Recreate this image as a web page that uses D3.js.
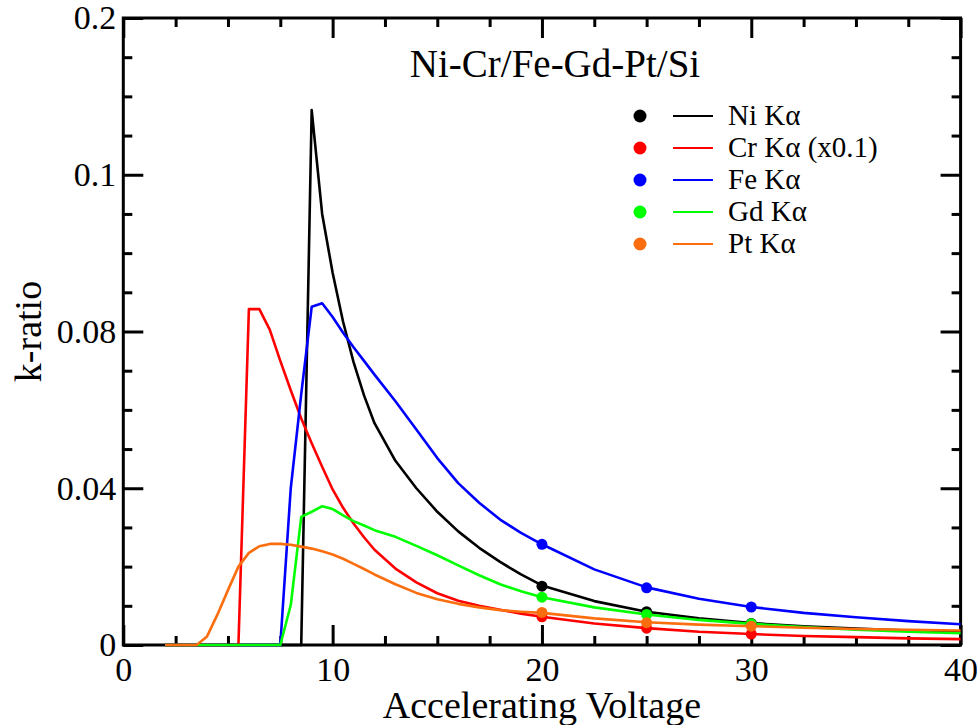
<!DOCTYPE html>
<html>
<head>
<meta charset="utf-8">
<script src="https://cdn.jsdelivr.net/npm/d3@7"></script>
<style>
  body { margin: 0; background: #fff; }
</style>
</head>
<body>
<div class="canvas"></div>
<script>
// accelerating voltage (kV) grid of the simulated curves
const voltage = [2, 2.5, 3, 3.5, 4, 4.5, 5, 5.5, 6, 6.5, 7, 7.5, 8, 8.5, 9, 9.5, 10, 10.5, 11, 11.5, 12,
  13, 14, 15, 16, 17, 18, 19, 20, 22.5, 25, 27.5, 30, 32.5, 35, 37.5, 40];

const niKa = [0, 0, 0, 0, 0, 0, 0, 0, 0, 0, 0, 0, 0, 0, 0.1365, 0.110, 0.0950, 0.0825, 0.0722, 0.0637, 0.0566,
  0.0470, 0.0400, 0.0340, 0.0290, 0.0248, 0.0212, 0.0180, 0.0152, 0.0112, 0.0085, 0.0068, 0.0056, 0.0048, 0.0042, 0.0037, 0.0033];
const crKa = [0, 0, 0, 0, 0, 0, 0, 0, 0.0857, 0.0857, 0.0804, 0.0725, 0.065, 0.0578, 0.0515, 0.0455, 0.0397, 0.035, 0.031, 0.0275, 0.0243,
  0.0195, 0.016, 0.0132, 0.0113, 0.0100, 0.0090, 0.0080, 0.0072, 0.0055, 0.0043, 0.0034, 0.0028, 0.0023, 0.0020, 0.0017, 0.0015];
const feKa = [0, 0, 0, 0, 0, 0, 0, 0, 0, 0, 0, 0, 0.040, 0.064, 0.0863, 0.0872, 0.0837, 0.0797, 0.076, 0.0725, 0.069,
  0.0622, 0.0550, 0.0477, 0.0413, 0.0363, 0.0320, 0.0286, 0.0257, 0.0193, 0.0147, 0.0118, 0.0097, 0.0082, 0.0071, 0.0061, 0.0053];
const gdKa = [0, 0, 0, 0, 0, 0, 0, 0, 0, 0, 0, 0, 0.0102, 0.0327, 0.0340, 0.0354, 0.0347, 0.0331, 0.0316, 0.0305, 0.0293,
  0.0276, 0.0253, 0.0229, 0.0203, 0.0178, 0.0155, 0.0137, 0.0122, 0.0096, 0.0078, 0.0064, 0.0054, 0.0046, 0.0039, 0.0034, 0.0030];
const ptKa = [0, 0, 0, 0, 0.0022, 0.0078, 0.0140, 0.0200, 0.0235, 0.0252, 0.0258, 0.0258, 0.0256, 0.0251, 0.0246, 0.0239, 0.0231, 0.0220, 0.0207, 0.0194, 0.0180,
  0.0155, 0.0133, 0.0117, 0.0105, 0.0096, 0.0089, 0.0085, 0.0082, 0.0068, 0.0058, 0.0052, 0.0048, 0.0044, 0.0041, 0.0039, 0.0037];

// measured points
const measVoltage = [20, 25, 30];
const niMeas = [0.0150, 0.0085, 0.0055];
const crMeas = [0.0072, 0.0043, 0.0028];
const feMeas = [0.0257, 0.0146, 0.0097];
const gdMeas = [0.0122, 0.0078, 0.0054];
const ptMeas = [0.0083, 0.0057, 0.0048];

const seriesNames = ["Ni K\u03b1", "Cr K\u03b1 (x0.1)", "Fe K\u03b1", "Gd K\u03b1", "Pt K\u03b1"];
const seriesColors = ["#000000", "#ff0000", "#0000ff", "#00ff00", "#fa6e0f"];

const xTicks = [0, 10, 20, 30, 40];
const yTicks = [0, 0.04, 0.08, 0.12, 0.16];
const yTickLabels = ["0", "0.04", "0.08", "0.1", "0.2"];

const series = [
  { name: seriesNames[0], curve: niKa, meas: niMeas, color: seriesColors[0] },
  { name: seriesNames[1], curve: crKa, meas: crMeas, color: seriesColors[1] },
  { name: seriesNames[2], curve: feKa, meas: feMeas, color: seriesColors[2] },
  { name: seriesNames[3], curve: gdKa, meas: gdMeas, color: seriesColors[3] },
  { name: seriesNames[4], curve: ptKa, meas: ptMeas, color: seriesColors[4] },
];

const FONT = "'Liberation Serif', 'DejaVu Serif', 'Times New Roman', serif";
const dims = { width: 977, height: 725 };
const plot = { left: 123.3, top: 18, right: 960.6, bottom: 645 };

const svg = d3
  .select(".canvas")
  .append("svg")
  .attr("width", dims.width)
  .attr("height", dims.height)
  .attr("font-family", FONT);

const x = d3.scaleLinear().domain([0, 40]).range([plot.left, plot.right]);
const y = d3.scaleLinear().domain([0, 0.16]).range([plot.bottom, plot.top]);

const minorX = d3.range(0, 40.01, 2.5).filter((v) => !xTicks.includes(v));
const minorY = d3.range(0, 0.1601, 0.01).filter((v) => !yTicks.some((t) => Math.abs(t - v) < 1e-9));

const styleAxis = (g) => {
  g.attr("font-family", FONT);
  g.select(".domain").remove();
  g.selectAll("line").attr("stroke", "#000").attr("stroke-width", 3);
};

// major ticks with labels
svg.append("g")
  .attr("transform", `translate(0, ${plot.bottom})`)
  .call(d3.axisBottom(x).tickValues(xTicks).tickSizeInner(-20).tickSizeOuter(0).tickPadding(12).tickFormat(d3.format("d")))
  .call(styleAxis)
  .selectAll("text")
  .attr("font-family", FONT)
  .attr("font-size", 34)
  .attr("fill", "#000");

svg.append("g")
  .attr("transform", `translate(${plot.left}, 0)`)
  .call(d3.axisLeft(y).tickValues(yTicks).tickSizeInner(-20).tickSizeOuter(0).tickPadding(7)
    .tickFormat((d, i) => yTickLabels[i]))
  .call(styleAxis)
  .selectAll("text")
  .attr("font-family", FONT)
  .attr("font-size", 34)
  .attr("fill", "#000");

// mirrored ticks, top and right
svg.append("g")
  .attr("transform", `translate(0, ${plot.top})`)
  .call(d3.axisTop(x).tickValues(xTicks).tickSizeInner(-20).tickSizeOuter(0).tickFormat(""))
  .call(styleAxis);

svg.append("g")
  .attr("transform", `translate(${plot.right}, 0)`)
  .call(d3.axisRight(y).tickValues(yTicks).tickSizeInner(-20).tickSizeOuter(0).tickFormat(""))
  .call(styleAxis);

// minor ticks
[
  [d3.axisBottom(x).tickValues(minorX), `translate(0, ${plot.bottom})`],
  [d3.axisTop(x).tickValues(minorX), `translate(0, ${plot.top})`],
  [d3.axisLeft(y).tickValues(minorY), `translate(${plot.left}, 0)`],
  [d3.axisRight(y).tickValues(minorY), `translate(${plot.right}, 0)`],
].forEach(([ax, tr]) => {
  svg.append("g")
    .attr("transform", tr)
    .call(ax.tickSizeInner(-9).tickSizeOuter(0).tickFormat(""))
    .call(styleAxis);
});

// frame
svg.append("rect")
  .attr("x", plot.left)
  .attr("y", plot.top)
  .attr("width", plot.right - plot.left)
  .attr("height", plot.bottom - plot.top)
  .attr("fill", "none")
  .attr("stroke", "#000")
  .attr("stroke-width", 3);

// curves
const line = d3
  .line()
  .x((d) => x(d[0]))
  .y((d) => y(d[1]));

const graph = svg.append("g");

series.forEach((s) => {
  graph.append("path")
    .datum(voltage.map((v, i) => [v, s.curve[i]]))
    .attr("d", line)
    .attr("fill", "none")
    .attr("stroke", s.color)
    .attr("stroke-width", 2.6)
    .attr("stroke-linejoin", "round");
});

series.forEach((s) => {
  graph.selectAll(null)
    .data(measVoltage.map((v, i) => [v, s.meas[i]]))
    .enter()
    .append("circle")
    .attr("cx", (d) => x(d[0]))
    .attr("cy", (d) => y(d[1]))
    .attr("r", 5.5)
    .attr("fill", s.color);
});

// titles
svg.append("text")
  .attr("x", 555)
  .attr("y", 77)
  .attr("text-anchor", "middle")
  .attr("font-size", 39)
  .text("Ni-Cr/Fe-Gd-Pt/Si");

svg.append("text")
  .attr("x", (plot.left + plot.right) / 2)
  .attr("y", 718)
  .attr("text-anchor", "middle")
  .attr("font-size", 38)
  .text("Accelerating Voltage");

svg.append("text")
  .attr("transform", `translate(41, ${(plot.top + plot.bottom) / 2}) rotate(-90)`)
  .attr("text-anchor", "middle")
  .attr("font-size", 38)
  .text("k-ratio");

//legend
const legendGroup = svg.append("g").attr("transform", "translate(640, 116)");

const rows = legendGroup
  .selectAll("g")
  .data(series)
  .enter()
  .append("g")
  .attr("transform", (d, i) => `translate(0, ${i * 32})`);

rows.append("circle").attr("r", 6.5).attr("fill", (d) => d.color);
rows.append("line")
  .attr("x1", 33)
  .attr("x2", 73)
  .attr("stroke", (d) => d.color)
  .attr("stroke-width", 2.2);
rows.append("text")
  .attr("x", 88)
  .attr("y", 9)
  .attr("font-size", 29)
  .text((d) => d.name);
</script>
</body>
</html>
